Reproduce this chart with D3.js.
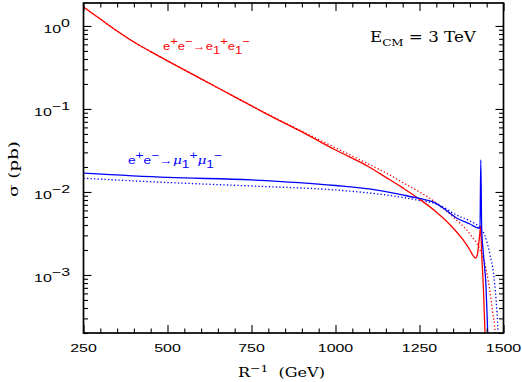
<!DOCTYPE html>
<html>
<head>
<meta charset="utf-8">
<script src="https://cdn.jsdelivr.net/npm/d3@7"></script>
<style>
  body { margin: 0; background: #fff; }
  .ticklbl { font-family: "Liberation Sans", Arial, sans-serif; font-size: 11px; }
  .serif { font-family: "DejaVu Serif", serif; }
</style>
</head>
<body>
<svg id="chart" width="522" height="382"></svg>
<script>
// values: R^-1 in GeV, sigma in pb
var eeSolidR = [250, 300, 350, 400, 450, 500, 600, 700, 800, 900, 1000, 1100, 1150, 1200, 1250, 1300, 1350, 1380, 1400, 1410, 1417, 1422, 1426, 1430, 1432, 1435, 1440, 1445, 1448];
var eeSolid  = [1.69, 1.21, 0.87, 0.64, 0.49, 0.38, 0.23, 0.14, 0.085, 0.053, 0.032, 0.020, 0.0150, 0.0112, 0.0082, 0.00574, 0.00368, 0.00264, 0.0020, 0.0017, 0.0016, 0.00174, 0.0023, 0.0033, 0.0039, 0.00184, 0.00072, 0.0002, 0.0001];

var eeDotR = [250, 300, 350, 400, 450, 500, 600, 700, 800, 900, 1000, 1100, 1150, 1200, 1250, 1300, 1350, 1400, 1430, 1450, 1460, 1468, 1475, 1478];
var eeDot  = [1.69, 1.21, 0.87, 0.64, 0.49, 0.38, 0.23, 0.14, 0.086, 0.054, 0.0340, 0.0215, 0.0170, 0.0130, 0.0100, 0.0074, 0.0050, 0.00312, 0.0020, 0.00109, 0.00061, 0.00035, 0.0002, 0.0001];

var mmSolidR = [250, 500, 750, 1000, 1100, 1200, 1250, 1290, 1320, 1360, 1400, 1425, 1430, 1432.5, 1435, 1440, 1448, 1453, 1456];
var mmSolid  = [0.0169, 0.0150, 0.01395, 0.01197, 0.01087, 0.0092, 0.00835, 0.00758, 0.00641, 0.00486, 0.00411, 0.00368, 0.0037, 0.0243, 0.0036, 0.00184, 0.00072, 0.0002, 0.0001];

var mmDotR = [250, 500, 750, 1000, 1100, 1200, 1250, 1300, 1320, 1360, 1400, 1430, 1445, 1460, 1470, 1478, 1484, 1487];
var mmDot  = [0.01462, 0.0130, 0.0118, 0.01057, 0.00972, 0.00859, 0.0079, 0.00717, 0.00659, 0.00528, 0.00448, 0.00368, 0.00295, 0.00174, 0.00106, 0.0005, 0.0002, 0.0001];

var xTicks = [250, 500, 750, 1000, 1250, 1500];
var yTicks = [1e-3, 1e-2, 1e-1, 1];
var yTickExp = ["\u22123", "\u22122", "\u22121", "0"];

var svg = d3.select("#chart");
var L = 83.5, R = 503.5, T = 3, B = 333;

var x = d3.scaleLinear().domain([250, 1500]).range([L, R]);
var y = d3.scaleLog().domain([2e-4, 1.89]).range([B, T]);

var xMinor = d3.range(300, 1500, 50).filter(function(v) { return v % 250 != 0; });
var yMinor = [];
[-4, -3, -2, -1, 0].forEach(function(e) {
  d3.range(2, 10).forEach(function(k) {
    var v = k * Math.pow(10, e);
    if (v >= 2e-4 && v <= 1.89) yMinor.push(v);
  });
});

// curves, clipped to the frame
svg.append("clipPath").attr("id", "clip")
  .append("rect").attr("x", L).attr("y", T).attr("width", R - L).attr("height", B - T);

var line = d3.line()
  .x(function(d) { return x(d[0]); })
  .y(function(d) { return y(d[1]); })
  .curve(d3.curveMonotoneX);

var series = [
  { r: eeDotR, s: eeDot, color: "#ff0000", dash: "1.3,2.2" },
  { r: mmDotR, s: mmDot, color: "#0000ff", dash: "1.3,2.2" },
  { r: eeSolidR, s: eeSolid, color: "#ff0000", dash: null },
  { r: mmSolidR, s: mmSolid, color: "#0000ff", dash: null }
];

svg.append("g").attr("clip-path", "url(#clip)")
  .selectAll("path")
  .data(series)
  .enter()
  .append("path")
  .attr("d", function(d) { return line(d3.zip(d.r, d.s)); })
  .attr("fill", "none")
  .attr("stroke", function(d) { return d.color; })
  .attr("stroke-width", 1.3)
  .attr("stroke-dasharray", function(d) { return d.dash; });

// inward ticks on all four sides
function ticks(gen, tx, ty, vals, size) {
  svg.append("g")
    .attr("transform", "translate(" + tx + "," + ty + ")")
    .call(gen.tickValues(vals).tickSize(size).tickFormat(""))
    .call(function(g) {
      g.select(".domain").remove();
      g.selectAll("line").attr("stroke", "#000").attr("stroke-width", 1.1);
    });
}
ticks(d3.axisBottom(x), 0, B, xTicks, -8);
ticks(d3.axisBottom(x), 0, B, xMinor, -4.5);
ticks(d3.axisTop(x), 0, T, xTicks, -8);
ticks(d3.axisTop(x), 0, T, xMinor, -4.5);
ticks(d3.axisLeft(y), L, 0, yTicks, -8);
ticks(d3.axisLeft(y), L, 0, yMinor, -4.5);
ticks(d3.axisRight(y), R, 0, yTicks, -8);
ticks(d3.axisRight(y), R, 0, yMinor, -4.5);

svg.append("rect")
  .attr("x", L).attr("y", T).attr("width", R - L).attr("height", B - T)
  .attr("fill", "none").attr("stroke", "#000").attr("stroke-width", 1.7);

// tick labels (the original is stretched sideways)
svg.selectAll(".xlbl")
  .data(xTicks)
  .enter()
  .append("text")
  .attr("class", "ticklbl")
  .attr("text-anchor", "middle")
  .attr("transform", function(d) { return "translate(" + x(d) + ",352) scale(1.45,1)"; })
  .text(function(d) { return d; });

var ylbl = svg.selectAll(".ylbl")
  .data(yTicks)
  .enter()
  .append("text")
  .attr("class", "ticklbl")
  .attr("text-anchor", "end")
  .attr("transform", function(d) { return "translate(70," + (y(d) + 7) + ") scale(1.45,1)"; });
ylbl.append("tspan").text("10");
ylbl.append("tspan").attr("dy", -6).text(function(d, i) { return yTickExp[i]; });

// rich text: parts are [text, "n"|"sup"|"sub", dx, extra attrs]
function rich(parts, cls, size, small, up, down, fill) {
  var t = svg.append("text").attr("class", cls).attr("font-size", size).attr("fill", fill || "#000");
  var cur = 0;
  parts.forEach(function(p) {
    var target = p[1] == "sup" ? -up : p[1] == "sub" ? down : 0;
    var ts = t.append("tspan").attr("dy", target - cur).text(p[0]);
    if (p[1] != "n") ts.attr("font-size", small);
    if (p[2]) ts.attr("dx", p[2]);
    if (p[3]) ts.attr("font-family", p[3].family).attr("font-style", p[3].style);
    cur = target;
  });
  return t;
}
function fit(t, x0, y0, w, rot) {
  var s = w / t.node().getBBox().width;
  t.attr("transform", "translate(" + x0 + "," + y0 + ")" + (rot ? " rotate(-90)" : "") + " scale(" + s + ",1)");
}

var sans = "ticklbl";
var mu = { family: "DejaVu Serif", style: "italic" };

var eeLbl = rich([["e", "n"], ["+", "sup"], ["e", "n"], ["\u2212", "sup"], ["\u2192", "n"],
                  ["e", "n"], ["1", "sub"], ["+", "sup"], ["e", "n"], ["1", "sub"], ["\u2212", "sup"]],
                 sans, 15, 11, 5.5, 4, "#ff0000");
fit(eeLbl, 163, 50, 87);

var mmLbl = rich([["e", "n"], ["+", "sup"], ["e", "n"], ["\u2212", "sup"], ["\u2192", "n"],
                  ["\u03bc", "n", 0, mu], ["1", "sub"], ["+", "sup"], ["\u03bc", "n", 0, mu], ["1", "sub"], ["\u2212", "sup"]],
                 sans, 15, 11, 5.5, 4, "#0000ff");
fit(mmLbl, 128, 164, 94);

var ecm = rich([["E", "n"], ["CM", "sub"], ["\u00a0=\u00a03\u00a0TeV", "n"]], "serif", 14, 10, 5, 4);
fit(ecm, 370, 42, 107);

var xt = rich([["R", "n"], ["\u22121", "sup"], ["\u00a0\u00a0(GeV)", "n"]], "serif", 13, 10, 5, 4);
fit(xt, 238, 377, 87);

var yt = rich([["\u03c3", "n"], ["\u00a0(pb)", "n"]], "serif", 13, 10, 5, 4);
fit(yt, 18, 197, 56, true);
</script>
</body>
</html>
